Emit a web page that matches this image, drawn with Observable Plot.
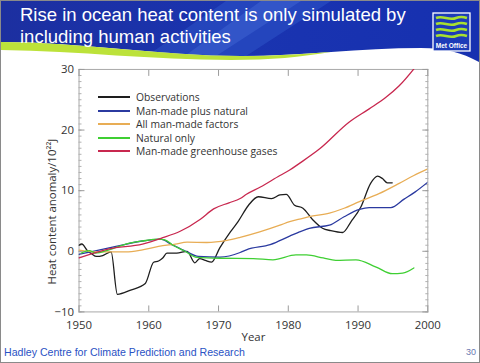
<!DOCTYPE html>
<html>
<head>
<meta charset="utf-8">
<script src="https://cdn.jsdelivr.net/npm/d3@7"></script>
<script src="https://cdn.jsdelivr.net/npm/@observablehq/plot@0.6"></script>
<style>
  html, body { margin: 0; padding: 0; background: #fff; }
  #slide { position: relative; width: 480px; height: 363px; overflow: hidden; background: #fff;
           box-sizing: border-box; border: 1px solid #8a8a8a; font-family: "Liberation Sans", Arial, sans-serif; }
  #banner { position: absolute; left: 0; top: 0; }
  #title { position: absolute; left: 19px; top: 3px; color: #fff; font-size: 18.5px; line-height: 22px; }
  #chart { position: absolute; left: -1px; top: 59px; }
  #legend { position: absolute; left: 97px; top: 89px; font-family: "Open Sans", "Noto Sans", sans-serif; font-size: 10.3px; color: #333; }
  #legend .row { display: flex; align-items: center; height: 14px; margin-bottom: -0.4px; }
  #legend .sw { display: inline-block; width: 32px; height: 0; border-top: 2px solid; margin-right: 6px; }
  #footer { position: absolute; left: 3px; top: 345px; color: #2a52c4; font-size: 10.6px; }
  #page { position: absolute; right: 3px; top: 346px; color: #6b78b0; font-size: 9px; }
</style>
</head>
<body>
<div id="slide">
  <svg id="banner" width="480" height="64" viewBox="0 0 480 64">
    <defs>
      <linearGradient id="bg" x1="0" y1="0" x2="1" y2="0">
        <stop offset="0" stop-color="#1c2fa0"/>
        <stop offset="0.5" stop-color="#1a34b0"/>
        <stop offset="1" stop-color="#1630b0"/>
      </linearGradient>
    </defs>
    <path d="M0,0 H480 V62 C462,52 445,47 420,47 C360,47 300,55 240,55 C160,55 80,41 0,41 Z" fill="url(#bg)"/>
    <path d="M225,0 L330,0 L245,55 L150,52 Z" fill="#3a66d8" opacity="0.35"/>
    <path d="M260,0 L300,0 L215,55 L185,54 Z" fill="#5a86ea" opacity="0.25"/>
    <path d="M0,41 C80,41 160,55 240,55 C275,55 300,53 330,51 C300,56 270,59 230,59 C150,59 80,50 0,49 Z" fill="#bce23a"/>
    <rect x="432" y="12" width="37" height="38" fill="#1d3cb8" stroke="#fff" stroke-width="1.3"/>
    <path d="M435,17 C442,14 448,20 455,17 C460,15 463,16 466,17" fill="none" stroke="#a8e030" stroke-width="2.6"/>
    <path d="M435,23 C442,20 448,26 455,23 C460,21 463,22 466,23" fill="none" stroke="#a8e030" stroke-width="2.6"/>
    <path d="M435,29 C442,26 448,32 455,29 C460,27 463,28 466,29" fill="none" stroke="#a8e030" stroke-width="2.6"/>
    <path d="M435,35 C442,32 448,38 455,35 C460,33 463,34 466,35" fill="none" stroke="#a8e030" stroke-width="2.6"/>
    <text x="450.5" y="47" text-anchor="middle" fill="#fff" font-size="6.5" font-weight="bold" font-family="Liberation Sans, Arial, sans-serif">Met Office</text>
  </svg>
  <div id="title">Rise in ocean heat content is only simulated by<br>including human activities</div>
  <div id="chart"></div>
  <div id="legend"></div>
  <div id="footer">Hadley Centre for Climate Prediction and Research</div>
  <div id="page">30</div>
</div>
<script>
// ---- Data ----
const seriesNames = ["Observations", "Man-made plus natural", "All man-made factors", "Natural only", "Man-made greenhouse gases"];
const seriesColors = ["#1e1e1e", "#2b3aa0", "#e8ad55", "#3fcf33", "#c8284f"];

const obsYears = [1950.0,1950.4,1951.2,1951.8,1952.5,1953.4,1954.6,1955.5,1957.4,1959.5,1960.7,1961.4,1962.0,1962.6,1964.0,1965.5,1966.6,1967.3,1968.1,1969.0,1970.2,1971.7,1972.8,1974.3,1975.7,1977.6,1978.8,1979.7,1980.9,1982.1,1983.5,1984.9,1986.1,1987.8,1989.0,1990.4,1991.8,1992.8,1993.5,1994.2,1994.9];
const obsValues = [1.0,1.2,0.1,-0.4,-0.85,-0.7,-0.1,-7.1,-6.4,-5.3,-1.8,-1.6,-1.1,-0.3,-0.3,0.0,-1.9,-1.2,-1.5,-1.8,0.6,3.2,4.9,7.6,9.0,8.7,9.3,9.4,7.6,7.1,5.2,3.8,3.4,3.1,4.9,7.3,11.2,12.4,12.0,11.3,11.3];

const bothYears = [1950,1952,1955.3,1959.1,1961.7,1963.3,1965.3,1967.1,1970.2,1973.1,1974,1977.4,1980.2,1981.6,1983,1985.9,1988,1990.2,1991.6,1994.7,1996.6,1998.2,2000];
const bothValues = [-0.5,0.0,0.8,1.7,2.0,1.1,0.0,-0.85,-0.95,-0.2,0.25,1.1,2.5,3.2,3.8,4.3,5.7,6.9,7.2,7.2,8.6,9.8,11.4];

const manYears = [1950,1952.4,1956.7,1959.1,1961.4,1963.8,1965.5,1968.3,1971.2,1973.1,1975.9,1978.8,1980.2,1981.6,1983,1985.9,1988,1990.2,1993,1995.9,1998,2000];
const manValues = [0.2,-0.1,-0.1,0.25,0.8,1.2,1.5,1.45,1.8,2.3,3.2,4.3,4.9,5.3,5.7,6.3,7.1,8.2,9.5,11.2,12.5,13.6];

const natYears = [1950.3,1951.5,1952.4,1954.3,1956.7,1959.1,1961.4,1962.3,1963.5,1965.2,1966.9,1970.2,1975,1977.8,1981.1,1982.6,1985,1986.8,1989.7,1992.6,1994.9,1996.4,1998];
const natValues = [-0.3,0.1,-0.3,0.25,1.2,1.7,2.0,1.9,1.0,0.0,-1.0,-1.15,-1.2,-1.4,-0.6,-0.6,-1.1,-1.5,-1.4,-2.6,-3.7,-3.6,-2.75];

const ghgYears = [1950,1954.3,1959.1,1961.9,1964.5,1967.4,1969.3,1971.5,1973.1,1974,1976,1978.8,1980.2,1981.6,1984.5,1988.7,1991.6,1994,1995.9,1998.5];
const ghgValues = [-1.1,0.4,1.2,2.2,3.3,5.3,7.0,8.0,8.7,9.4,10.6,12.5,13.4,14.5,16.9,21.3,23.5,25.4,27.3,30.8];

const xTicks = [1950, 1960, 1970, 1980, 1990, 2000];
const yTicks = [-10, 0, 10, 20, 30];
const yMinor = d3.range(-10, 31, 1);
const yLabel = "Heat content anomaly/10²²J";
const xLabel = "Year";

// ---- Build table ----
const table = [];
[[obsYears, obsValues], [bothYears, bothValues], [manYears, manValues], [natYears, natValues], [ghgYears, ghgValues]]
  .forEach(([ys, vs], i) => ys.forEach((y, j) => table.push({series: seriesNames[i], year: y, value: vs[j]})));

const font = "'Open Sans', 'Noto Sans', sans-serif";
const tickColor = "#9a9a9a";

const chart = Plot.plot({
  width: 482,
  height: 284,
  marginLeft: 79,
  marginRight: 52,
  marginTop: 9,
  marginBottom: 31,
  style: {fontFamily: font, fontSize: "11.5px", color: "#333", background: "transparent", overflow: "visible"},
  x: {domain: [1950, 2000]},
  y: {domain: [-10, 30]},
  color: {domain: seriesNames, range: seriesColors},
  marks: [
    Plot.frame({stroke: "#a8a8a8"}),
    Plot.axisY(yMinor, {anchor: "left", tickSize: -3, text: null, label: null, stroke: "#b0b0b0"}),
    Plot.axisY(yMinor, {anchor: "right", tickSize: -3, text: null, label: null, stroke: "#b0b0b0"}),
    Plot.axisY(yTicks, {anchor: "left", tickSize: -6, text: null, label: null, stroke: tickColor}),
    Plot.axisY(yTicks, {anchor: "right", tickSize: -6, text: null, label: null, stroke: tickColor}),
    Plot.axisY(yTicks, {anchor: "left", tickSize: 0, tickPadding: 5, label: null, tickFormat: d => d < 0 ? "−" + Math.abs(d) : String(d), fill: "#333"}),
    Plot.axisX(xTicks, {anchor: "top", tickSize: -6, text: null, label: null, stroke: tickColor}),
    Plot.axisX(xTicks, {anchor: "bottom", tickSize: -6, text: null, label: null, stroke: tickColor}),
    Plot.axisX(xTicks, {anchor: "bottom", tickSize: 0, tickPadding: 9, tickFormat: d => String(d), label: xLabel, labelAnchor: "center", labelArrow: "none", labelOffset: 29, fill: "#333"}),
    Plot.text([yLabel], {frameAnchor: "left", textAnchor: "middle", rotate: -90, dx: -27, dy: 21, fill: "#333", fontSize: 11.5}),
    Plot.line(table, {x: "year", y: "value", stroke: "series", z: "series", strokeWidth: 1.3, curve: "monotone-x", clip: true})
  ]
});
document.getElementById("chart").appendChild(chart);

const legend = document.getElementById("legend");
seriesNames.forEach((name, i) => {
  const row = document.createElement("div");
  row.className = "row";
  const sw = document.createElement("span");
  sw.className = "sw";
  sw.style.borderTopColor = seriesColors[i];
  const t = document.createElement("span");
  t.textContent = name;
  row.appendChild(sw);
  row.appendChild(t);
  legend.appendChild(row);
});
</script>
</body>
</html>
